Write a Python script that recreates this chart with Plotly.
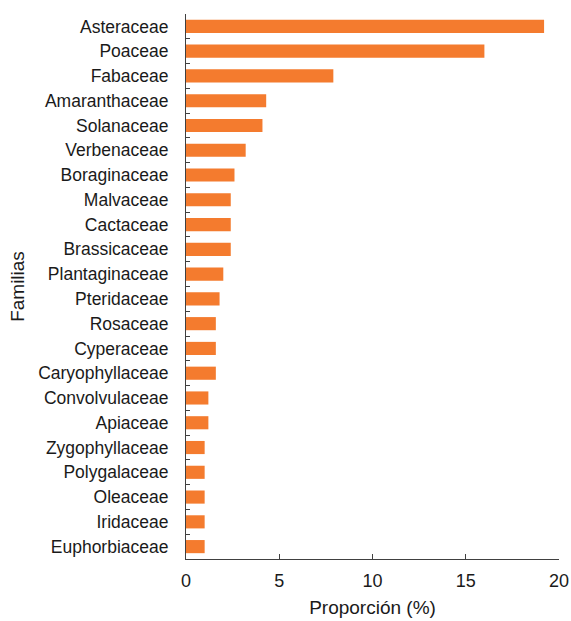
import plotly.graph_objects as go

familias = ["Asteraceae", "Poaceae", "Fabaceae", "Amaranthaceae", "Solanaceae",
            "Verbenaceae", "Boraginaceae", "Malvaceae", "Cactaceae", "Brassicaceae",
            "Plantaginaceae", "Pteridaceae", "Rosaceae", "Cyperaceae", "Caryophyllaceae",
            "Convolvulaceae", "Apiaceae", "Zygophyllaceae", "Polygalaceae", "Oleaceae",
            "Iridaceae", "Euphorbiaceae"]
proporcion = [19.2, 16.0, 7.9, 4.3, 4.1, 3.2, 2.6, 2.4, 2.4, 2.4,
              2.0, 1.8, 1.6, 1.6, 1.6, 1.2, 1.2, 1.0, 1.0, 1.0, 1.0, 1.0]
x_ticks = [0, 5, 10, 15, 20]

fig = go.Figure(go.Bar(
    x=proporcion, y=familias, orientation="h",
    marker=dict(color="#F47B2E", line=dict(width=0)),
))

fig.update_layout(
    width=571, height=621,
    margin=dict(l=186, r=12, t=14, b=62),
    paper_bgcolor="white", plot_bgcolor="white",
    bargap=0.47,
    font=dict(family="Liberation Sans, Arial, sans-serif", size=17, color="#1a1a1a"),
    showlegend=False,
)
fig.update_xaxes(
    range=[0, 20], tickvals=x_ticks, ticks="inside", ticklen=5, tickcolor="#404040",
    showline=True, linecolor="#404040", linewidth=1, showgrid=False, zeroline=False,
    automargin=False, ticklabelstandoff=5,
    title=dict(text="Proporción (%)", standoff=11, font=dict(size=19)),
    tickfont=dict(size=18),
)
fig.update_yaxes(
    categoryorder="array", categoryarray=familias[::-1],
    ticks="inside", tickson="boundaries", ticklen=4, tickcolor="#404040",
    showline=True, linecolor="#404040", linewidth=1, showgrid=False,
    automargin=False, ticklabelstandoff=13,
    title=dict(text="Familias", standoff=8, font=dict(size=19)),
    tickfont=dict(size=17.5),
)

fig.write_html(
    "out.html",
    config={"displayModeBar": False},
    post_script="document.body.style.margin='0';document.body.style.overflow='hidden';",
)
